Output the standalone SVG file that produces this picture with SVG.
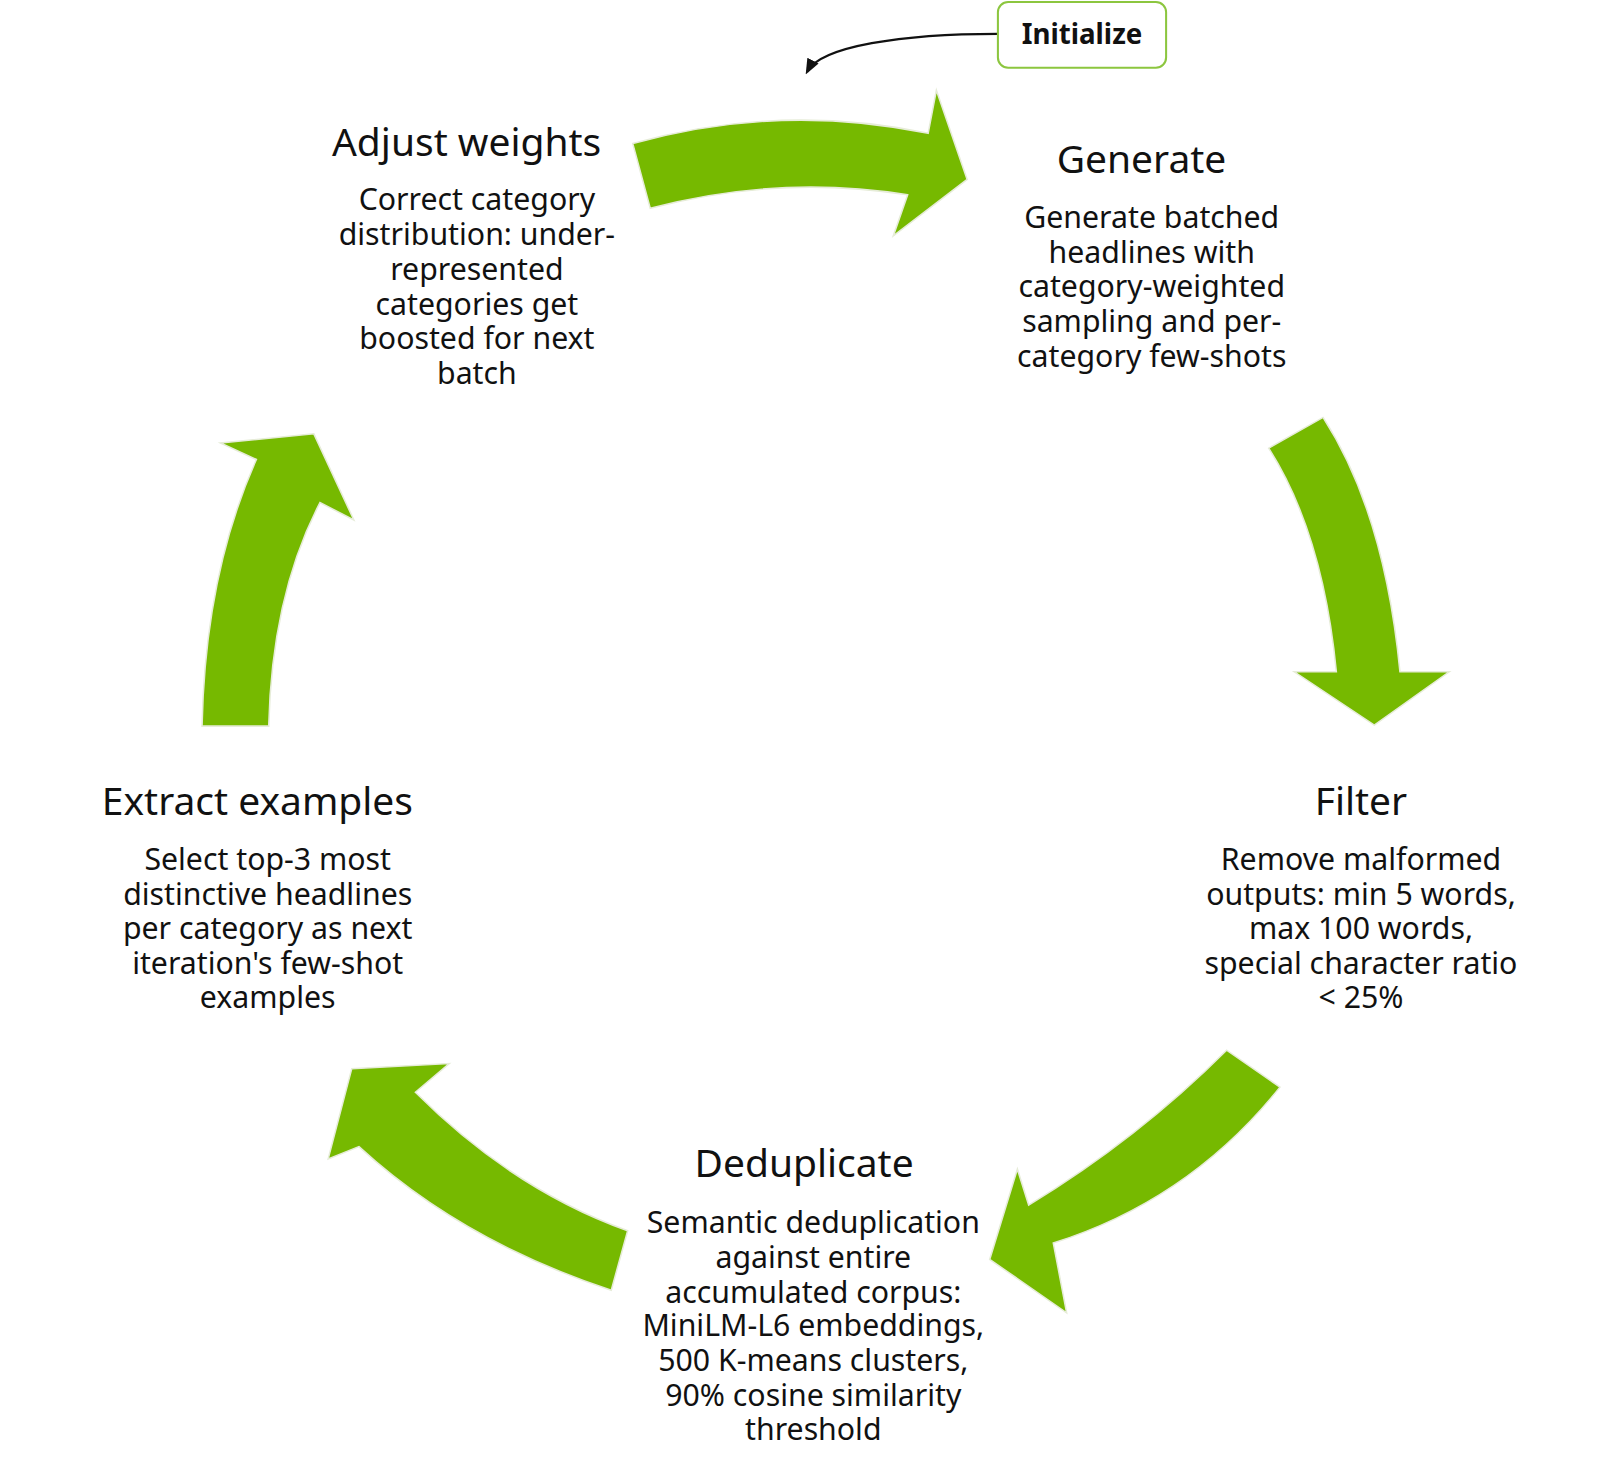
<svg xmlns="http://www.w3.org/2000/svg" width="1600" height="1464" viewBox="0 0 1600 1464">
<style>
.ar{fill:#76b900;stroke:#e6ecd8;stroke-width:1.5}
.t{font-family:"Noto Sans","Open Sans",sans-serif;font-size:38px;fill:#111;text-anchor:middle}
.b{font-family:"Noto Sans","Open Sans",sans-serif;font-size:29.5px;fill:#111;text-anchor:middle}
</style>
<defs><marker id="m" viewBox="0 0 10 10" refX="8" refY="5" markerWidth="7" markerHeight="7" orient="auto"><path d="M0,1 L10,5 L0,9 z" fill="#111"/></marker></defs>
<rect width="1600" height="1464" fill="#fff"/>
<g transform="scale(1.0256)">
<g id="connectors">
<path class="ar" d="M617,140 Q760,100 905,130 L913,88 L943,175 L871,230 L885,190 Q760,170 634,203 Z"/>
<path class="ar" d="M1237,437 Q1290,520 1303,655 L1262,655 L1340,707 L1413,655 L1365,655 Q1350,500 1290,407 Z"/>
<path class="ar" d="M1248,1060 Q1160,1170 1027,1212 L1040,1280 L965,1228 L992,1140 L1003,1175 Q1110,1110 1196,1024 Z"/>
<path class="ar" d="M596,1258 Q450,1210 350,1118 L320,1130 L343,1042 L438,1037 L405,1065 Q500,1160 612,1200 Z"/>
<path class="ar" d="M197,708 Q200,560 250,448 L215,432 L306,423 L345,507 L312,490 Q265,580 262,708 Z"/>
<path d="M973,33 C880,33 800,45 787,70" fill="none" stroke="#111" stroke-width="2.2" marker-end="url(#m)"/>
</g>
<g id="initialize">
<rect x="973" y="2" width="164" height="64" rx="10" fill="#fff" stroke="#8cc63f" stroke-width="2"/>
<text x="1055" y="43" font-family="'Noto Sans','Open Sans',sans-serif" font-size="27" font-weight="bold" text-anchor="middle" fill="#111">Initialize</text>
</g>
<g id="adjust">
<text class="t" x="455" y="152">Adjust weights</text>
<text class="b" x="465" y="205">Correct category</text>
<text class="b" x="465" y="239">distribution: under-</text>
<text class="b" x="465" y="273">represented</text>
<text class="b" x="465" y="307">categories get</text>
<text class="b" x="465" y="340">boosted for next</text>
<text class="b" x="465" y="374">batch</text>
</g>
<g id="generate">
<text class="t" x="1113" y="169">Generate</text>
<text class="b" x="1123" y="222">Generate batched</text>
<text class="b" x="1123" y="256">headlines with</text>
<text class="b" x="1123" y="290">category-weighted</text>
<text class="b" x="1123" y="324">sampling and per-</text>
<text class="b" x="1123" y="358">category few-shots</text>
</g>
<g id="filter">
<text class="t" x="1327" y="795">Filter</text>
<text class="b" x="1327" y="848">Remove malformed</text>
<text class="b" x="1327" y="882">outputs: min 5 words,</text>
<text class="b" x="1327" y="916">max 100 words,</text>
<text class="b" x="1327" y="950">special character ratio</text>
<text class="b" x="1327" y="983">&lt; 25%</text>
</g>
<g id="extract">
<text class="t" x="251" y="795">Extract examples</text>
<text class="b" x="261" y="848">Select top-3 most</text>
<text class="b" x="261" y="882">distinctive headlines</text>
<text class="b" x="261" y="916">per category as next</text>
<text class="b" x="261" y="950">iteration's few-shot</text>
<text class="b" x="261" y="983">examples</text>
</g>
<g id="deduplicate">
<text class="t" x="784" y="1148">Deduplicate</text>
<text class="b" x="793" y="1202">Semantic deduplication</text>
<text class="b" x="793" y="1236">against entire</text>
<text class="b" x="793" y="1270">accumulated corpus:</text>
<text class="b" x="793" y="1303">MiniLM-L6 embeddings,</text>
<text class="b" x="793" y="1337">500 K-means clusters,</text>
<text class="b" x="793" y="1371">90% cosine similarity</text>
<text class="b" x="793" y="1404">threshold</text>
</g>
</g>
</svg>
